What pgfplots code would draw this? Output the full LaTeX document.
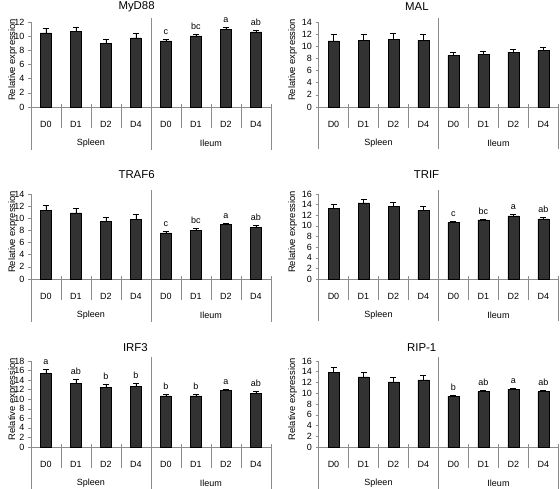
\documentclass[border=0pt]{standalone}
\usepackage{fontspec}
\setmainfont{Liberation Sans}
\usepackage{pgfplots}
\pgfplotsset{compat=1.18}
\definecolor{linegray}{RGB}{140,140,140}
\definecolor{barfill}{RGB}{50,50,50}
\newcommand{\tf}{\fontsize{9}{10.8}\selectfont}
\pgfplotsset{
  every axis title/.style={anchor=center},
  panel/.style={
    width=240pt, scale only axis,
    xmin=-0.5, xmax=7.5, ymin=0,
    axis x line=bottom, axis y line=left,
    axis line style={draw=linegray, line width=0.5pt, -},
    xtick={0,...,7}, xticklabels={D0,D1,D2,D4,D0,D1,D2,D4},
    x tick style={draw=none},
    y tick style={draw=linegray, line width=0.5pt},
    tick align=outside, major tick length=3pt,
    ytick distance=2,
    tick label style={font=\tf, text=black},
    xticklabel style={yshift=-7.5pt},
    /pgf/number format/assume math mode=true,
    ylabel={Relative expression},
    ylabel style={font=\fontsize{9.4}{11}\selectfont, anchor=center},
    title style={font=\fontsize{11.4}{13}\selectfont, anchor=center},
    clip=false,
  },
  leftpanel/.style={panel, ylabel style={at={([xshift=-18.3pt]axis description cs:0,0.555)}}},
  rightpanel/.style={panel, ylabel style={at={([xshift=-25.8pt]axis description cs:0,0.555)}}},
  bars/.style={ybar, bar width=11pt, bar shift=0pt, fill=barfill, draw=black, line width=0.5pt,
    error bars/.cd, y dir=plus, y explicit,
    error bar style={black, line width=0.6pt},
    error mark options={rotate=90, black, mark size=3pt, line width=0.6pt}},
  letters/.style={draw=none, mark=none, nodes near coords, point meta=explicit symbolic,
    nodes near coords style={anchor=base, yshift=4.8pt, inner sep=0pt, font=\tf, text=black}},
}
\newcommand{\furniture}[1]{%
  \pgfplotsinvokeforeach{0.5,1.5,2.5,4.5,5.5,6.5}{\draw[linegray,line width=0.5pt] ([yshift=3pt]axis cs:##1,0) -- ([yshift=-21pt]axis cs:##1,0);}
  \draw[linegray,line width=0.5pt] ([yshift=4pt]rel axis cs:0.5,1) -- ([yshift=-#1]rel axis cs:0.5,0);
  \draw[linegray,line width=0.5pt] (rel axis cs:0,0) -- ([yshift=-#1]rel axis cs:0,0);
  \draw[linegray,line width=0.5pt] ([yshift=3pt]rel axis cs:1,0) -- ([yshift=-#1]rel axis cs:1,0);
  \node[font=\tf] at ([yshift=-36pt]axis cs:1.5,0) {Spleen};
  \node[font=\tf] at ([yshift=-36pt]axis cs:5.5,0) {Ileum};
}
\begin{document}
\begin{tikzpicture}
\path[use as bounding box] (0,0) rectangle (560pt,-489pt);
% MyD88
\begin{axis}[leftpanel, at={(31pt,-107pt)}, anchor=south west, height=85pt, ymax=12,
  title={MyD88}, title style={at={(axis description cs:0.44,1)}, yshift=15pt}]
\addplot[bars] table[x=x,y=y,y error=e] {
x y e
0 10.45 0.60
1 10.70 0.60
2 9.00 0.60
3 9.75 0.70
4 9.35 0.25
5 10.05 0.25
6 11.00 0.30
7 10.60 0.20
};
\addplot[letters] table[x=x,y=y,meta=l] {
x y l
4 9.6 c
5 10.3 bc
6 11.3 a
7 10.8 ab
};
\furniture{43pt}
\end{axis}
% MAL
\begin{axis}[rightpanel, at={(318.5pt,-107pt)}, anchor=south west, height=85pt, ymax=14,
  title={MAL}, title style={at={(axis description cs:0.41,1)}, yshift=15pt}]
\addplot[bars] table[x=x,y=y,y error=e] {
x y e
0 10.90 1.00
1 11.00 1.00
2 11.15 1.05
3 11.00 1.00
4 8.50 0.50
5 8.65 0.50
6 9.05 0.50
7 9.30 0.60
};
\furniture{42pt}
\end{axis}
% TRAF6
\begin{axis}[leftpanel, at={(31pt,-279pt)}, anchor=south west, height=85pt, ymax=14,
  title={TRAF6}, title style={at={(axis description cs:0.44,1)}, yshift=19pt}]
\addplot[bars] table[x=x,y=y,y error=e] {
x y e
0 11.25 0.85
1 10.90 0.80
2 9.45 0.75
3 9.80 0.80
4 7.60 0.30
5 7.95 0.35
6 8.95 0.25
7 8.55 0.25
};
\addplot[letters] table[x=x,y=y,meta=l] {
x y l
4 7.9 c
5 8.3 bc
6 9.2 a
7 8.8 ab
};
\furniture{43pt}
\end{axis}
% TRIF
\begin{axis}[rightpanel, at={(318.5pt,-279pt)}, anchor=south west, height=85pt, ymax=16,
  title={TRIF}, title style={at={(axis description cs:0.45,1)}, yshift=19pt}]
\addplot[bars] table[x=x,y=y,y error=e] {
x y e
0 13.35 0.80
1 14.35 0.70
2 13.65 0.85
3 12.90 0.85
4 10.60 0.20
5 11.15 0.15
6 11.90 0.20
7 11.30 0.25
};
\addplot[letters] table[x=x,y=y,meta=l] {
x y l
4 10.8 c
5 11.3 bc
6 12.1 a
7 11.55 ab
};
\furniture{42pt}
\end{axis}
% IRF3
\begin{axis}[leftpanel, at={(31pt,-447pt)}, anchor=south west, height=86pt, ymax=18,
  title={IRF3}, title style={at={(axis description cs:0.435,1)}, yshift=13pt}]
\addplot[bars] table[x=x,y=y,y error=e] {
x y e
0 15.35 0.85
1 13.25 0.95
2 12.50 0.70
3 12.65 0.75
4 10.70 0.30
5 10.70 0.30
6 11.90 0.25
7 11.25 0.50
};
\addplot[letters] table[x=x,y=y,meta=l] {
x y l
0 16.2 a
1 14.2 ab
2 13.2 b
3 13.4 b
4 11.0 b
5 11.0 b
6 12.15 a
7 11.75 ab
};
\furniture{43pt}
\end{axis}
% RIP-1
\begin{axis}[rightpanel, at={(318.5pt,-447pt)}, anchor=south west, height=86pt, ymax=16,
  title={RIP-1}, title style={at={(axis description cs:0.43,1)}, yshift=13pt}]
\addplot[bars] table[x=x,y=y,y error=e] {
x y e
0 13.85 0.90
1 13.05 0.85
2 12.10 0.85
3 12.50 0.80
4 9.45 0.25
5 10.30 0.25
6 10.75 0.20
7 10.30 0.25
};
\addplot[letters] table[x=x,y=y,meta=l] {
x y l
4 9.7 b
5 10.55 ab
6 10.95 a
7 10.55 ab
};
\furniture{42pt}
\end{axis}
\end{tikzpicture}
\end{document}
